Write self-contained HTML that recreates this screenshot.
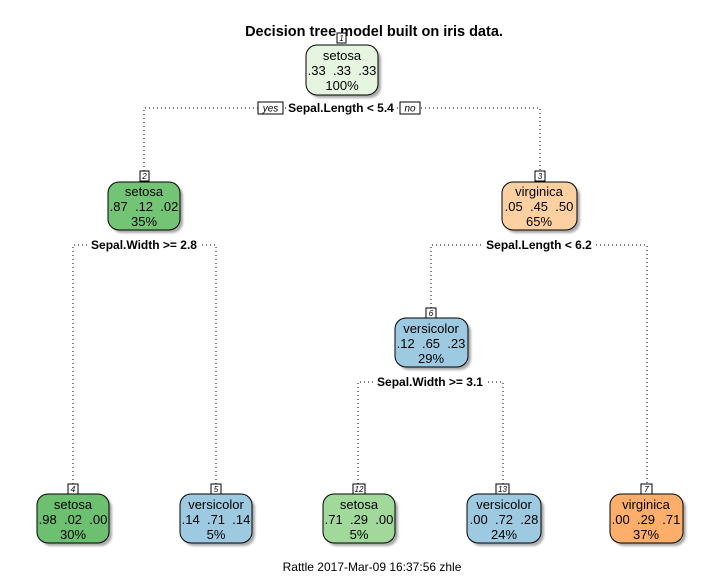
<!DOCTYPE html>
<html><head><style>
body{margin:0;background:#fff}
svg{display:block}
text{font-family:"Liberation Sans",Arial,sans-serif;white-space:pre}
</style></head><body>
<svg width="720" height="576" viewBox="0 0 720 576" xmlns="http://www.w3.org/2000/svg" xml:space="preserve">
<defs><filter id="s" x="-20%" y="-20%" width="150%" height="150%"><feOffset dx="3" dy="3"/><feGaussianBlur stdDeviation="1"/></filter></defs>
<rect width="720" height="576" fill="#fff"/>
<text x="374" y="36" font-size="14.5" font-weight="bold" text-anchor="middle">Decision tree model built on iris data.</text>
<g fill="none" stroke="#000" stroke-width="1" stroke-dasharray="1,3">
<polyline points="144,171 144,108 540,108 540,171"/>
<polyline points="73,484 73,245 216,245 216,484"/>
<polyline points="431,308 431,245 647,245 647,484"/>
<polyline points="358,484 358,382 503,382 503,484"/>
</g>
<g font-size="12" font-weight="bold" text-anchor="middle">
<rect x="286" y="101" width="110" height="14" fill="#fff"/>
<text x="341" y="112">Sepal.Length &lt; 5.4</text>
<rect x="88" y="238" width="112" height="14" fill="#fff"/>
<text x="144" y="249">Sepal.Width &gt;= 2.8</text>
<rect x="484" y="238" width="110" height="14" fill="#fff"/>
<text x="539" y="249">Sepal.Length &lt; 6.2</text>
<rect x="374" y="375" width="112" height="14" fill="#fff"/>
<text x="430" y="386">Sepal.Width &gt;= 3.1</text>
</g>
<g font-size="10" font-style="italic" text-anchor="middle">
<rect x="258" y="102" width="25" height="12" fill="#fff" stroke="#000"/><text x="270.5" y="111.5">yes</text>
<rect x="400" y="102" width="20" height="12" fill="#fff" stroke="#000"/><text x="410" y="111.5">no</text>
</g>
<g stroke="#000" stroke-width="1">
<g><rect x="306" y="45" width="72" height="50" rx="11" fill="#aaa" filter="url(#s)" stroke="none"/><rect x="306" y="45" width="72" height="50" rx="11" fill="#e5f5e0"/></g>
<g><rect x="108" y="182" width="72" height="48" rx="11" fill="#aaa" filter="url(#s)" stroke="none"/><rect x="108" y="182" width="72" height="48" rx="11" fill="#74c476"/></g>
<g><rect x="502" y="182" width="75" height="48" rx="11" fill="#aaa" filter="url(#s)" stroke="none"/><rect x="502" y="182" width="75" height="48" rx="11" fill="#fdd0a2"/></g>
<g><rect x="395" y="318" width="73" height="49" rx="11" fill="#aaa" filter="url(#s)" stroke="none"/><rect x="395" y="318" width="73" height="49" rx="11" fill="#9ecae1"/></g>
<g><rect x="37" y="494" width="72" height="49" rx="11" fill="#aaa" filter="url(#s)" stroke="none"/><rect x="37" y="494" width="72" height="49" rx="11" fill="#6cc070"/></g>
<g><rect x="180" y="494" width="72" height="49" rx="11" fill="#aaa" filter="url(#s)" stroke="none"/><rect x="180" y="494" width="72" height="49" rx="11" fill="#9ecae1"/></g>
<g><rect x="323" y="494" width="72" height="49" rx="11" fill="#aaa" filter="url(#s)" stroke="none"/><rect x="323" y="494" width="72" height="49" rx="11" fill="#a1d99b"/></g>
<g><rect x="467" y="494" width="74" height="49" rx="11" fill="#aaa" filter="url(#s)" stroke="none"/><rect x="467" y="494" width="74" height="49" rx="11" fill="#9ecae1"/></g>
<g><rect x="610" y="494" width="73" height="49" rx="11" fill="#aaa" filter="url(#s)" stroke="none"/><rect x="610" y="494" width="73" height="49" rx="11" fill="#fdae6b"/></g>
</g>
<g stroke="#000" fill="#fff">
<rect x="337" y="33" width="9" height="10"/>
<rect x="140" y="171" width="9" height="10"/>
<rect x="535" y="171" width="10" height="10"/>
<rect x="426" y="308" width="10" height="10"/>
<rect x="68" y="484" width="10" height="10"/>
<rect x="211" y="484" width="10" height="10"/>
<rect x="353" y="484" width="12" height="10"/>
<rect x="496" y="484" width="13" height="10"/>
<rect x="641" y="484" width="11" height="10"/>
</g>
<g font-size="8" font-style="italic" text-anchor="middle">
<text x="341.5" y="41">1</text><text x="144.5" y="179">2</text><text x="540" y="179">3</text>
<text x="431" y="316">6</text><text x="73" y="492">4</text><text x="216" y="492">5</text>
<text x="359" y="492">12</text><text x="502.5" y="492">13</text><text x="646.5" y="492">7</text>
</g>
<g font-size="13" text-anchor="middle">
<text x="342" y="60">setosa</text><text x="342" y="75">.33  .33  .33</text><text x="342" y="90">100%</text>
<text x="144" y="196">setosa</text><text x="144" y="211">.87  .12  .02</text><text x="144" y="226">35%</text>
<text x="539" y="196">virginica</text><text x="539" y="211">.05  .45  .50</text><text x="539" y="226">65%</text>
<text x="431" y="333">versicolor</text><text x="431" y="348">.12  .65  .23</text><text x="431" y="363">29%</text>
<text x="73" y="509">setosa</text><text x="73" y="524">.98  .02  .00</text><text x="73" y="539">30%</text>
<text x="216" y="509">versicolor</text><text x="216" y="524">.14  .71  .14</text><text x="216" y="539">5%</text>
<text x="359" y="509">setosa</text><text x="359" y="524">.71  .29  .00</text><text x="359" y="539">5%</text>
<text x="504" y="509">versicolor</text><text x="504" y="524">.00  .72  .28</text><text x="504" y="539">24%</text>
<text x="646" y="509">virginica</text><text x="646" y="524">.00  .29  .71</text><text x="646" y="539">37%</text>
</g>
<text x="372" y="571" font-size="12" text-anchor="middle">Rattle 2017-Mar-09 16:37:56 zhle</text>
</svg>
</body></html>
